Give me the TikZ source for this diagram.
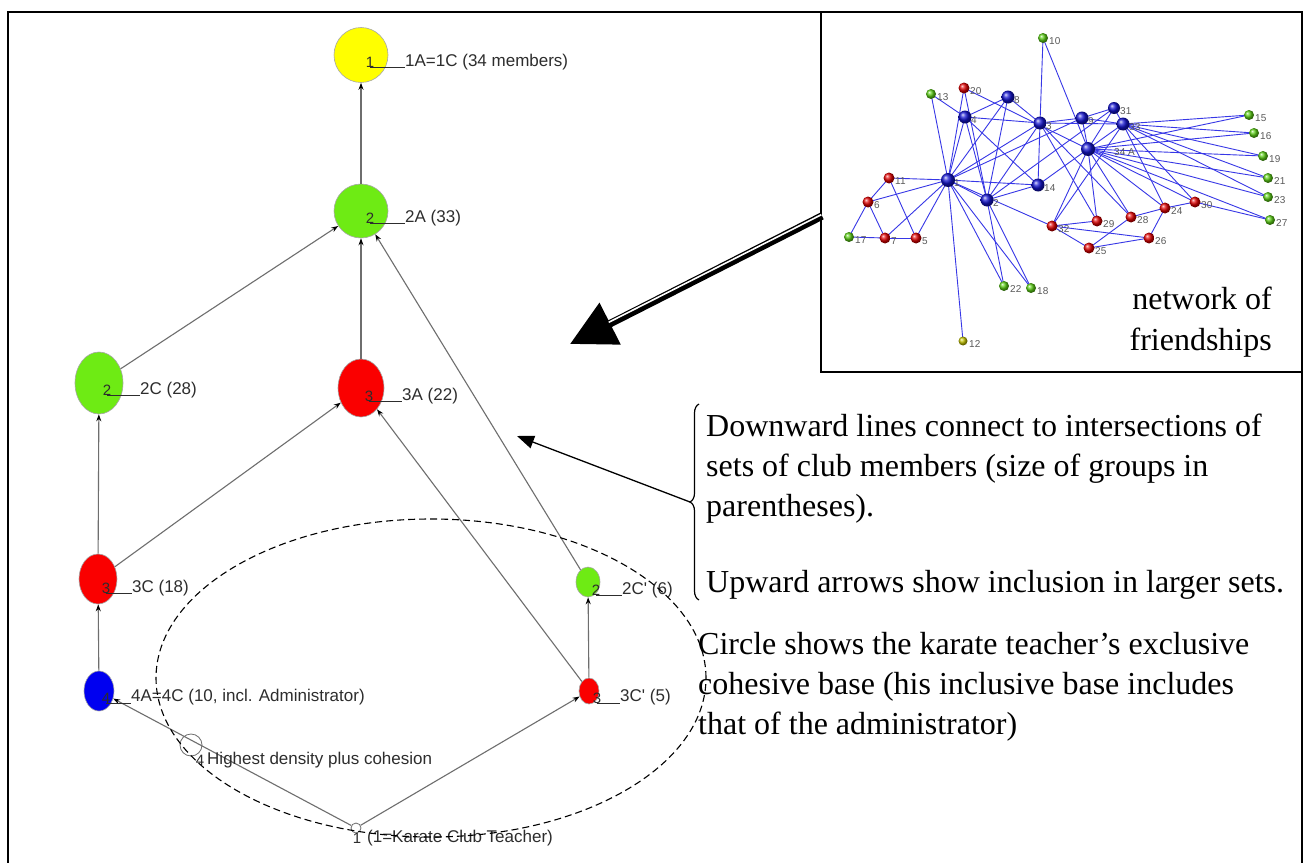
\documentclass[tikz,border=0pt]{standalone}
\usepackage{fontspec}
\setmainfont{Liberation Serif}
\newfontfamily\lsans{Liberation Sans}
\usetikzlibrary{arrows.meta,calc,shapes.geometric,decorations.pathreplacing}
\definecolor{latgreen}{RGB}{110,235,20}
\definecolor{latred}{RGB}{250,0,0}
\definecolor{latblue}{RGB}{0,0,240}
\definecolor{latyellow}{RGB}{255,255,0}
\definecolor{latline}{RGB}{110,110,110}
\definecolor{labtext}{RGB}{45,45,45}
\definecolor{netedgecol}{RGB}{55,55,230}
\definecolor{netlabcol}{RGB}{90,90,90}
\definecolor{netb}{RGB}{20,20,210}
\definecolor{netr}{RGB}{225,0,0}
\definecolor{netg}{RGB}{90,205,20}
\definecolor{nety}{RGB}{195,195,0}
\begin{document}
\begin{tikzpicture}[x=1pt,y=-1pt,
  lat/.style={ellipse, draw=black!35, line width=0.6pt, inner sep=0pt},
  num/.style={font=\lsans\fontsize{15}{15}\selectfont, text=labtext, inner sep=0pt},
  lab/.style={font=\lsans\fontsize{17}{17}\selectfont, text=labtext, inner sep=0pt, anchor=west},
  lead/.style={draw=labtext, line width=0.7pt},
  up/.style={draw=latline, line width=1.1pt, -{Stealth[length=7pt,width=5pt,black]}},
  expl/.style={font=\fontsize{32}{38}\selectfont, inner sep=0pt, anchor=base west},
  netedge/.style={draw=netedgecol, line width=0.9pt},
  netnode/.style={circle, inner sep=0pt},
  netlab/.style={font=\lsans\fontsize{10}{10}\selectfont, text=netlabcol, inner sep=0pt, anchor=west},
]
\useasboundingbox (0,0) rectangle (1309,862);
\clip (0,0) rectangle (1309,862);
\fill[white] (0,0) rectangle (1309,862);

% outer frame and inset frame
\draw[line width=2pt] (8,880) -- (8,12) -- (1302,12) -- (1302,880);
\draw[line width=2pt] (821,12) rectangle (1302,372);

% ---------------- inset network ----------------
\foreach \i/\x/\y in {1/948/180,2/987/200,3/1040/123,4/965/117,5/916/238,6/868/202,7/885/238,8/1008/97,9/1082/118,10/1043/38,11/889/178,12/963/341,13/931/94,14/1038/185,15/1249/115,16/1254/133,17/849/237,18/1031/288,19/1263/156,20/964/88,21/1268/178,22/1004/286,23/1268/197,24/1165/208,25/1089/248,26/1149/238,27/1270/220,28/1131/217,29/1097/221,30/1195/202,31/1114/108,32/1052/226,33/1123/124,34/1088/149}
  \coordinate (v\i) at (\x,\y);
\foreach \a/\b in {1/2,1/3,1/4,1/5,1/6,1/7,1/8,1/9,1/11,1/12,1/13,1/14,1/18,1/20,1/22,1/32,
  2/3,2/4,2/8,2/14,2/18,2/20,2/22,2/31,
  3/4,3/8,3/9,3/10,3/14,3/28,3/29,3/33,
  4/8,4/13,4/14,5/7,5/11,6/7,6/11,6/17,7/17,
  9/31,9/33,9/34,10/34,14/34,15/33,15/34,16/33,16/34,19/33,19/34,20/34,21/33,21/34,23/33,23/34,
  24/26,24/28,24/30,24/33,24/34,25/26,25/28,25/32,26/32,27/30,27/34,28/34,29/32,29/34,
  30/33,30/34,31/33,31/34,32/33,32/34,33/34}
  \draw[netedge] (v\a) -- (v\b);
\foreach \i/\c/\s in {1/netb/14,2/netb/13,3/netb/13,4/netb/13,8/netb/13,9/netb/13,14/netb/13,31/netb/12,33/netb/13,34/netb/14,
  5/netr/11,6/netr/11,7/netr/11,11/netr/11,20/netr/11,24/netr/11,25/netr/11,26/netr/11,28/netr/11,29/netr/11,30/netr/11,32/netr/11,
  10/netg/10,13/netg/10,15/netg/10,16/netg/10,17/netg/10,18/netg/10,19/netg/10,21/netg/10,22/netg/10,23/netg/10,27/netg/10,
  12/nety/9}
  \node[netnode, ball color=\c, minimum size=\s] (w\i) at (v\i) {};
\foreach \i in {1,2,3,4,5,6,7,8,9,10,11,12,13,14,15,16,17,18,19,20,21,22,23,24,25,26,27,28,29,30,31,32,33}
  \node[netlab] (l\i) at ($(v\i)+(6,3)$) {\i};
\node[netlab] (l34) at ($(v34)+(26,3)$) {34 A};

\node[expl, anchor=base east] (netw1) at (1272,309) {network of};
\node[expl, anchor=base east] (netw2) at (1272,350) {friendships};

% ---------------- lattice ----------------
\node[lat, fill=latyellow, minimum width=54, minimum height=55] (n1) at (361,55) {};
\node[lat, fill=latgreen, minimum width=54, minimum height=54] (n2) at (361,211) {};
\node[lat, fill=latgreen, minimum width=48, minimum height=62] (n2C) at (99,383) {};
\node[lat, fill=latred, minimum width=46, minimum height=58] (n3A) at (361,388) {};
\node[lat, fill=latred, minimum width=38, minimum height=50] (n3C) at (98,579) {};
\node[lat, fill=latgreen, minimum width=24, minimum height=30] (n2Cp) at (588,582) {};
\node[lat, fill=latblue, minimum width=30, minimum height=40] (n4) at (99,691) {};
\node[lat, fill=latred, minimum width=20, minimum height=26] (n3Cp) at (589,691) {};
\node[circle, draw=latline, line width=0.8pt, minimum size=22, inner sep=0pt] (hd) at (191,745) {};
\node[circle, draw=latline, line width=0.8pt, minimum size=10, inner sep=0pt] (t1) at (356,828) {};

\draw[up] (n2) -- (n1);
\draw[up] (n2C) -- (n2);
\draw[up] (n3A) -- (n2);
\draw[up] (n2Cp) -- (n2);
\draw[up] (n3C) -- (n2C);
\draw[up] (n3C) -- (n3A);
\draw[up] (n3Cp) -- (n3A);
\draw[up] (n3Cp) -- (n2Cp);
\draw[up] (n4) -- (n3C);
\draw[up] (t1) -- (n4);
\draw[up] (t1) -- (n3Cp);

% numbers, leaders and labels
\node[num] (m1) at (370,62) {1};
\node[lab] (b1) at (405,62) {1A=1C (34 members)};
\node[num] (m2) at (370,218) {2};
\node[lab] (b2) at (405,218) {2A (33)};
\node[num] (m2C) at (107,390) {2};
\node[lab] (b2C) at (140,390) {2C (28)};
\node[num] (m3A) at (369,396) {3};
\node[lab] (b3A) at (402,396) {3A (22)};
\node[num] (m3C) at (106,588) {3};
\node[lab] (b3C) at (132,588) {3C (18)};
\node[num] (m2Cp) at (596,590) {2};
\node[lab] (b2Cp) at (622,590) {2C' (6)};
\node[num] (m4) at (106,698) {4};
\node[lab] (b4) at (131,697) {4A=4C (10, incl. Administrator)};
\node[num] (m3Cp) at (597,698) {3};
\node[lab] (b3Cp) at (620,697) {3C' (5)};
\node[num] (mhd) at (200,760) {4};
\node[lab] (bhd) at (207,760) {Highest density plus cohesion};
\node[num] (mt1) at (357,838) {1};
\node[lab] (bt1) at (367,838) {(1=Karate Club Teacher)};
\foreach \m/\b in {m1/b1,m2/b2,m2C/b2C,m3A/b3A,m3C/b3C,m2Cp/b2Cp,m4/b4,m3Cp/b3Cp}
  \draw[lead] (\m.south) -- (\m.south -| \b.west);

% dashed circle
\node[ellipse, draw, dashed, dash pattern=on 7pt off 4pt, line width=1.1pt, minimum width=550, minimum height=318, inner sep=0pt] (base) at (431,678) {};

% big double arrow from the inset
\coordinate (bs) at (822,216);
\coordinate (btip) at (570,344);
\coordinate (ws) at (821.3,214.7);
\coordinate (we) at (608.7,322.3);
\draw[line width=7.5pt, -{Triangle[length=45pt,width=45pt]}] (bs) -- (btip);
\draw[white, line width=1.6pt] (ws) -- (we);

% brace and explanatory text
\coordinate (brb) at (699,600);
\coordinate (brt) at (699,404);
\draw[decorate, decoration={brace, amplitude=9pt}, line width=1.2pt] (brb) -- (brt);
\coordinate (brtip) at (690,502);
\coordinate (atip) at (517,436);
\draw[line width=1.3pt, -{Triangle[length=17pt,width=13pt]}] (brtip) -- (atip);

\node[expl] (d1) at (706,436) {Downward lines connect to intersections of};
\node[expl] (d2) at (706,476) {sets of club members (size of groups in};
\node[expl] (d3) at (706,516) {parentheses).};
\node[expl] (d4) at (706,592) {Upward arrows show inclusion in larger sets.};
\node[expl] (c1) at (698,654) {Circle shows the karate teacher’s exclusive};
\node[expl] (c2) at (698,694) {cohesive base (his inclusive base includes};
\node[expl] (c3) at (698,734) {that of the administrator)};
\end{tikzpicture}
\end{document}
